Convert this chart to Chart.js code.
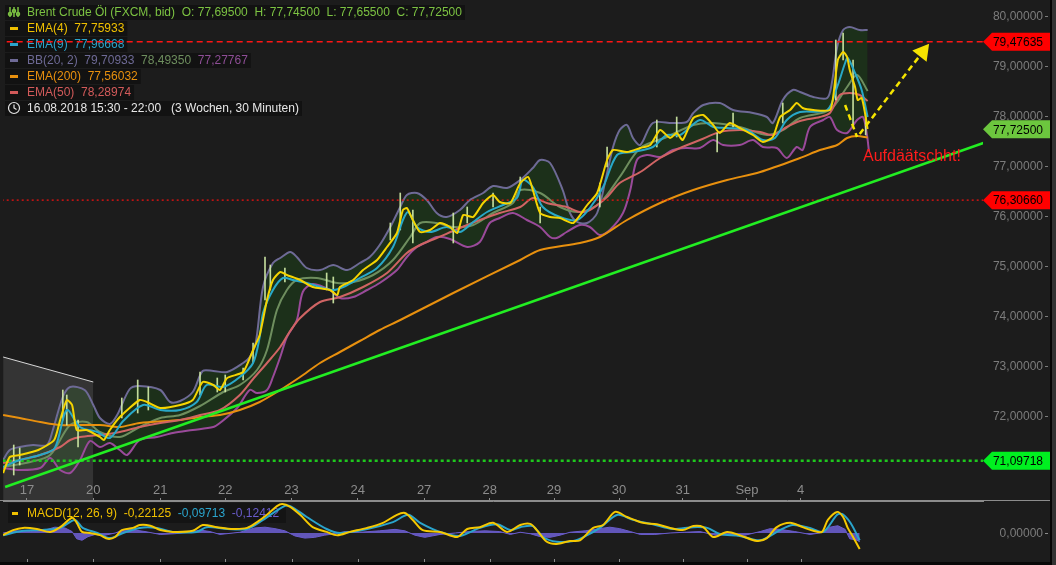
<!DOCTYPE html>
<html>
<head>
<meta charset="utf-8">
<script src="https://cdn.jsdelivr.net/npm/chart.js@4.4.0/dist/chart.umd.min.js"></script>
<style>
html, body { margin: 0; padding: 0; background: #1c1c1c; overflow: hidden; }
#wrap { position: relative; width: 1056px; height: 565px; }
#main { position: absolute; left: 0; top: 0; }
#macd { position: absolute; left: 0; top: 482px; }
.edgeB { position: absolute; left: 0; top: 562px; width: 1056px; height: 3px; background: #080808; }
.edgeR { position: absolute; left: 1050px; top: 0; width: 2px; height: 565px; background: #050505; }
.edgeR2 { position: absolute; left: 1052px; top: 0; width: 4px; height: 565px; background: #333; }
</style>
</head>
<body>
<div id="wrap">
  <canvas id="main" width="1056" height="501"></canvas>
  <canvas id="macd" width="1056" height="83"></canvas>
  <div class="edgeB"></div><div class="edgeR"></div><div class="edgeR2"></div>
</div>
<script>
// x unit = trading day, 17 Aug = 0
const dayTicks = [0, 1, 2.01, 2.99, 3.99, 4.99, 5.99, 6.98, 7.95, 8.93, 9.89, 10.86, 11.67];
const dayLabels = ['17', '20', '21', '22', '23', '24', '27', '28', '29', '30', '31', 'Sep', '4'];
const priceTicks = [72, 73, 74, 75, 76, 77, 78, 79, 80];

// [day, price]
const ema4 = [[-0.36,70.85],[-0.26,71.17],[-0.11,71.21],[0.17,71.31],[0.41,71.51],[0.50,71.91],[0.60,72.31],[0.68,72.21],[0.75,71.71],[0.90,71.71],[1.10,71.57],[1.16,71.51],[1.25,71.71],[1.40,71.97],[1.70,72.31],[1.81,72.27],[2.01,72.15],[2.31,72.21],[2.50,72.31],[2.65,72.67],[2.81,72.61],[2.91,72.51],[3.02,72.75],[3.26,72.87],[3.41,73.31],[3.51,73.61],[3.62,74.31],[3.71,74.71],[3.82,74.87],[3.92,74.81],[4.12,74.71],[4.31,74.57],[4.57,74.51],[4.68,74.41],[4.72,74.57],[4.92,74.71],[5.07,74.91],[5.28,75.11],[5.43,75.37],[5.58,75.65],[5.67,76.11],[5.73,76.15],[5.82,75.91],[5.93,75.67],[6.08,75.71],[6.23,75.85],[6.38,75.77],[6.49,75.65],[6.58,76.01],[6.73,75.97],[6.88,76.25],[7.03,76.41],[7.13,76.27],[7.29,76.25],[7.44,76.65],[7.56,76.77],[7.63,76.51],[7.74,76.05],[7.89,75.97],[8.04,75.95],[8.24,75.85],[8.45,76.21],[8.60,76.45],[8.75,77.11],[8.84,77.31],[9.05,77.27],[9.25,77.35],[9.40,77.41],[9.55,77.71],[9.70,77.55],[9.80,77.65],[9.89,77.51],[10.05,77.95],[10.20,78.01],[10.35,77.81],[10.45,77.65],[10.60,77.85],[10.75,77.75],[10.95,77.61],[11.10,77.47],[11.25,77.57],[11.36,77.97],[11.51,78.11],[11.61,78.25],[11.70,78.15],[11.86,78.11],[12.11,78.11],[12.16,78.37],[12.23,79.11],[12.31,79.27],[12.37,79.17],[12.41,78.91],[12.49,78.57],[12.53,78.31],[12.59,78.35],[12.64,78.05],[12.68,77.73]];
const ema9 = [[-0.36,70.97],[-0.11,71.11],[0.20,71.21],[0.42,71.35],[0.60,72.11],[0.80,71.77],[1.06,71.67],[1.25,71.55],[1.45,71.89],[1.75,72.21],[2.01,72.11],[2.31,72.11],[2.56,72.27],[2.71,72.61],[2.96,72.57],[3.21,72.77],[3.41,73.05],[3.51,73.57],[3.56,74.05],[3.71,74.51],[3.86,74.75],[4.01,74.71],[4.22,74.65],[4.42,74.57],[4.62,74.51],[4.77,74.57],[5.02,74.75],[5.28,74.95],[5.52,75.37],[5.67,75.91],[5.75,76.07],[5.88,75.77],[6.08,75.67],[6.33,75.77],[6.53,75.67],[6.73,75.87],[6.94,76.07],[7.18,76.21],[7.39,76.35],[7.48,76.71],[7.63,76.57],[7.78,76.17],[8.04,75.97],[8.30,75.91],[8.49,76.15],[8.69,76.57],[8.90,77.21],[9.14,77.27],[9.44,77.37],[9.65,77.61],[9.85,77.61],[10.15,77.91],[10.35,77.77],[10.56,77.75],[10.86,77.71],[11.10,77.51],[11.28,77.55],[11.46,77.91],[11.66,78.07],[12.07,78.11],[12.22,78.57],[12.34,79.05],[12.38,79.15],[12.49,78.85],[12.59,78.51],[12.68,77.97]];
const bbUpper = [[-0.36,71.11],[-0.26,71.31],[-0.11,71.37],[0.09,71.41],[0.30,71.41],[0.39,71.71],[0.54,72.37],[0.65,72.57],[0.87,72.51],[1.00,72.21],[1.10,71.95],[1.25,71.83],[1.36,72.01],[1.55,72.53],[1.70,72.59],[2.01,72.51],[2.16,72.27],[2.31,72.29],[2.50,72.47],[2.65,72.89],[2.81,72.89],[3.02,72.87],[3.26,73.05],[3.36,73.17],[3.45,73.45],[3.56,74.57],[3.71,75.05],[3.82,75.15],[3.97,75.27],[4.07,75.17],[4.22,74.95],[4.42,74.91],[4.62,75.01],[4.83,74.91],[5.02,75.05],[5.17,75.17],[5.32,75.41],[5.48,75.77],[5.63,76.17],[5.73,76.41],[5.88,76.45],[6.03,76.31],[6.18,76.05],[6.33,75.97],[6.53,76.11],[6.68,76.31],[6.88,76.45],[7.03,76.59],[7.24,76.55],[7.44,76.71],[7.63,76.95],[7.74,77.11],[7.89,77.05],[8.08,76.51],[8.19,76.05],[8.30,75.87],[8.45,75.85],[8.60,76.05],[8.75,76.85],[8.84,77.37],[8.94,77.71],[9.05,77.81],[9.14,77.55],[9.25,77.41],[9.44,77.85],[9.74,77.85],[9.95,77.87],[10.05,78.05],[10.20,78.21],[10.45,78.25],[10.65,78.11],[10.95,78.05],[11.16,77.97],[11.25,77.85],[11.40,78.31],[11.55,78.51],[11.66,78.47],[11.86,78.37],[12.07,78.35],[12.14,78.65],[12.22,79.37],[12.31,79.71],[12.41,79.77],[12.56,79.71],[12.68,79.71]];
const bbMiddle = [[-0.36,70.97],[0.05,71.07],[0.35,71.21],[0.65,71.81],[0.90,71.87],[1.10,71.67],[1.40,71.57],[1.70,71.77],[2.01,71.95],[2.31,72.01],[2.61,72.19],[2.96,72.47],[3.21,72.61],[3.47,72.91],[3.62,73.31],[3.77,74.11],[3.92,74.51],[4.07,74.71],[4.37,74.75],[4.68,74.65],[4.92,74.67],[5.22,74.81],[5.52,75.11],[5.78,75.57],[5.93,75.85],[6.18,75.85],[6.43,75.77],[6.73,75.81],[7.03,76.05],[7.33,76.25],[7.44,76.51],[7.74,76.45],[8.04,76.17],[8.34,76.07],[8.64,76.25],[8.94,76.77],[9.25,77.35],[9.65,77.57],[10.05,77.81],[10.35,77.85],[10.75,77.77],[11.16,77.61],[11.40,77.71],[11.66,77.95],[12.11,78.11],[12.37,78.57],[12.52,78.81],[12.68,78.49]];
const bbLower = [[-0.36,70.95],[-0.11,70.91],[0.20,70.95],[0.35,71.15],[0.50,70.91],[0.65,70.85],[0.80,71.11],[0.95,71.49],[1.10,71.37],[1.25,71.45],[1.40,71.31],[1.51,71.21],[1.70,71.51],[1.96,71.57],[2.20,71.65],[2.50,71.71],[2.81,71.77],[2.91,71.85],[3.17,72.15],[3.36,72.51],[3.47,72.45],[3.62,72.51],[3.71,72.77],[3.82,73.17],[3.92,73.57],[4.07,73.91],[4.16,74.47],[4.31,74.63],[4.57,74.51],[4.72,74.35],[4.92,74.37],[5.13,74.51],[5.32,74.65],[5.58,74.91],[5.73,75.17],[5.88,75.37],[6.03,75.47],[6.18,75.57],[6.38,75.53],[6.64,75.37],[6.83,75.47],[6.98,75.85],[7.13,75.95],[7.33,76.05],[7.54,75.91],[7.74,75.77],[7.89,75.57],[7.99,75.55],[8.14,75.67],[8.34,75.81],[8.49,75.77],[8.64,75.61],[8.79,75.71],[8.99,76.05],[9.10,76.51],[9.20,77.11],[9.35,77.21],[9.55,77.17],[9.74,77.31],[9.95,77.35],[10.15,77.35],[10.35,77.51],[10.50,77.41],[10.75,77.41],[10.95,77.51],[11.10,77.37],[11.31,77.35],[11.46,77.15],[11.61,77.37],[11.70,77.31],[11.81,77.77],[12.01,77.91],[12.11,77.97],[12.22,77.71],[12.37,77.65],[12.52,77.91],[12.61,77.97],[12.67,77.61],[12.70,77.28]];
const ema50 = [[-0.36,71.05],[-0.11,71.11],[0.20,71.21],[0.50,71.37],[0.65,71.51],[0.80,71.57],[1.10,71.61],[1.40,71.67],[1.70,71.77],[2.01,71.85],[2.31,71.91],[2.61,72.01],[2.91,72.11],[3.21,72.41],[3.41,72.73],[3.62,73.05],[3.82,73.37],[3.97,73.69],[4.12,73.95],[4.42,74.27],[4.72,74.37],[5.07,74.57],[5.43,74.85],[5.73,75.25],[5.93,75.41],[6.18,75.55],[6.53,75.75],[6.83,75.91],[7.13,76.05],[7.44,76.17],[7.63,76.35],[7.84,76.25],[8.14,76.17],[8.34,76.07],[8.49,76.11],[8.75,76.37],[8.94,76.65],[9.25,76.87],[9.55,77.15],[9.85,77.35],[10.15,77.51],[10.45,77.67],[10.75,77.71],[11.06,77.67],[11.25,77.61],[11.46,77.77],[11.66,77.89],[11.96,77.97],[12.11,78.05],[12.26,78.41],[12.41,78.45],[12.56,78.41],[12.68,78.29]];
const ema200 = [[-0.36,72.01],[-0.11,71.95],[0.20,71.87],[0.50,71.81],[1.10,71.81],[1.40,71.77],[1.70,71.85],[2.31,71.91],[2.61,71.97],[2.91,72.01],[3.21,72.11],[3.51,72.27],[3.82,72.51],[4.12,72.77],[4.42,73.05],[4.72,73.27],[5.02,73.49],[5.32,73.71],[5.63,73.91],[6.43,74.45],[7.44,75.11],[7.74,75.31],[8.34,75.45],[8.64,75.57],[9.05,75.91],[9.55,76.25],[10.05,76.51],[10.56,76.71],[11.06,76.87],[11.66,77.15],[11.96,77.31],[12.22,77.41],[12.37,77.55],[12.52,77.59],[12.68,77.56]];
// bar wicks: [day, low, high]
const wicks = [[-0.20,70.81,71.41],[-0.11,71.01,71.35],[0.54,71.91,72.51],[0.60,71.81,72.41],[0.77,71.37,71.91],[1.43,71.95,72.35],[1.67,72.05,72.71],[1.83,72.11,72.57],[2.61,72.41,72.87],[2.87,72.47,72.75],[2.99,72.47,72.81],[3.26,72.71,72.95],[3.41,73.05,73.45],[3.59,74.31,75.17],[3.67,74.51,75.01],[3.89,74.67,74.95],[4.52,74.51,74.85],[4.62,74.25,74.77],[5.48,75.51,75.85],[5.63,75.71,76.45],[5.82,75.45,76.11],[6.43,75.45,76.05],[6.64,75.85,76.17],[7.03,76.17,76.45],[7.44,76.51,76.77],[7.74,75.85,76.17],[8.64,76.17,76.65],[8.75,76.97,77.37],[9.50,77.37,77.91],[9.80,77.57,77.97],[10.41,77.27,77.65],[10.65,77.77,78.05],[11.40,77.85,78.25],[12.20,78.31,79.51],[12.31,79.11,79.65],[12.46,77.77,79.11],[12.65,77.61,78.01]];

const trendLine = [[-0.33, 70.57], [14.68, 77.57]];
const zoneTop = [[-0.36, 73.17], [1.00, 72.67]];
const arrowDown = [[12.34, 78.21], [12.52, 77.57]];
const arrowUp = [[12.56, 77.63], [13.51, 79.27]];
const notePos = [12.61, 77.17];
const noteText = 'Aufdäätschht!';

const levelHigh = 79.47635;
const levelMid = 76.30660;
const levelLow = 71.09718;
const lastClose = 77.72500;

const ohlc = [77.695, 77.745, 77.655, 77.725];
const ema4Last = 77.75933, ema9Last = 77.96668, ema200Last = 77.56032, ema50Last = 78.28974;
const bbLast = [79.70933, 78.49350, 77.27767];
const macdLast = [-0.22125, -0.09713, -0.12412];

// MACD panel [day, value]
const macdLine = [[-0.36,-0.03],[-0.21,0.04],[-0.06,0.07],[0.15,0.055],[0.35,0.015],[0.50,0.08],[0.68,0.21],[0.75,0.14],[0.83,0.015],[0.95,0],[1.10,-0.03],[1.22,-0.08],[1.33,-0.055],[1.43,0.04],[1.60,0.07],[1.70,0.11],[1.86,0.10],[2.01,0.04],[2.20,0.015],[2.50,0.03],[2.65,0.11],[2.87,0.08],[3.11,0.055],[3.32,0.07],[3.47,0.15],[3.62,0.25],[3.77,0.37],[3.85,0.40],[3.97,0.36],[4.12,0.25],[4.31,0.08],[4.52,0.015],[4.68,-0.03],[4.87,0.015],[5.13,0.07],[5.37,0.14],[5.58,0.25],[5.70,0.275],[5.82,0.18],[5.97,0.04],[6.23,0.015],[6.49,-0.055],[6.64,0.055],[6.83,0.08],[7.03,0.14],[7.24,0.015],[7.44,0.11],[7.59,0.125],[7.69,0.04],[7.84,-0.12],[7.99,-0.15],[8.19,-0.11],[8.34,-0.10],[8.54,0.07],[8.69,0.11],[8.87,0.29],[9.05,0.22],[9.29,0.14],[9.50,0.12],[9.70,0.07],[9.89,0.04],[10.05,0.095],[10.20,0.08],[10.35,-0.055],[10.56,0.015],[10.75,-0.03],[11.01,-0.11],[11.16,-0.07],[11.31,0.08],[11.51,0.14],[11.70,0.08],[11.86,0.03],[11.99,0.015],[12.08,0.18],[12.22,0.29],[12.31,0.22],[12.38,0.07],[12.46,-0.055],[12.56,-0.22]];
const signalLine = [[-0.36,-0.03],[-0.06,0.03],[0.20,0.04],[0.50,0.07],[0.72,0.18],[0.84,0.07],[1.06,0],[1.25,-0.07],[1.45,0],[1.70,0.07],[1.96,0.07],[2.20,0.015],[2.56,0.015],[2.71,0.08],[3.02,0.055],[3.32,0.055],[3.56,0.18],[3.86,0.36],[3.97,0.37],[4.22,0.22],[4.52,0.055],[4.72,0],[5.13,0.055],[5.52,0.15],[5.75,0.25],[5.93,0.14],[6.23,0.015],[6.53,-0.04],[6.83,0.07],[7.09,0.12],[7.29,0.04],[7.44,0.08],[7.63,0.095],[7.78,-0.055],[7.99,-0.12],[8.24,-0.11],[8.45,-0.03],[8.64,0.07],[8.91,0.25],[9.14,0.18],[9.44,0.12],[9.74,0.055],[10.05,0.08],[10.26,0.07],[10.45,-0.014],[10.75,-0.04],[11.06,-0.10],[11.36,0.04],[11.55,0.11],[11.81,0.07],[12.01,0.015],[12.22,0.25],[12.30,0.26],[12.42,0.14],[12.56,-0.10]];
const histogram = [[-0.36,0],[-0.18,0.03],[0.05,0.02],[0.27,0.04],[0.42,0.08],[0.57,0.07],[0.68,0.02],[0.75,-0.08],[0.83,-0.10],[0.92,-0.05],[1.03,-0.02],[1.18,-0.03],[1.33,0],[1.48,0.05],[1.63,0.04],[1.78,0.02],[2.01,-0.02],[2.23,-0.01],[2.46,0.01],[2.61,0.04],[2.76,0.02],[2.91,-0.02],[3.21,0.01],[3.44,0.07],[3.59,0.08],[3.74,0.06],[3.89,0.03],[4.04,-0.04],[4.19,-0.07],[4.34,-0.06],[4.49,-0.03],[4.65,-0.01],[4.80,0.02],[5.02,0.01],[5.32,0.03],[5.55,0.05],[5.70,0.03],[5.85,-0.03],[6.00,-0.06],[6.23,-0.02],[6.46,0],[6.68,0.02],[6.91,0.03],[7.13,0.02],[7.29,-0.02],[7.44,0.01],[7.59,-0.01],[7.74,-0.05],[7.89,-0.06],[8.04,-0.03],[8.19,0.01],[8.42,0.03],[8.64,0.06],[8.79,0.08],[8.94,0.06],[9.10,0.02],[9.25,-0.02],[9.47,-0.02],[9.70,0],[9.92,0.01],[10.15,0.02],[10.38,-0.03],[10.60,-0.02],[10.83,-0.03],[11.06,0.02],[11.21,0.06],[11.36,0.05],[11.58,0.02],[11.81,-0.02],[11.96,0],[12.11,0.08],[12.23,0.10],[12.34,0.05],[12.41,-0.08],[12.52,-0.10],[12.56,-0.12]];

const X_MIN = -0.362, X_MAX = 14.42;
const FONT = '"Liberation Sans", Arial, sans-serif';
const toXY = pts => pts.map(p => ({x: p[0], y: p[1]}));
const fmt = v => v.toFixed(5).replace('.', ',');

function lineDs(label, pts, color, order, extra) {
  return Object.assign({
    label: label, data: toXY(pts), borderColor: color, borderWidth: 2,
    pointRadius: 0, tension: 0.3, fill: false, order: order
  }, extra || {});
}
function levelDs(label, v, color, dash, width) {
  return {
    label: label, data: [{x: X_MIN - 1, y: v}, {x: X_MAX + 1, y: v}],
    borderColor: color, borderWidth: width, borderDash: dash, pointRadius: 0, fill: false, order: 7
  };
}

function priceTag(ctx, y, text, bg) {
  const h = 18;
  ctx.fillStyle = bg;
  ctx.beginPath();
  ctx.moveTo(983, y);
  ctx.lineTo(992, y - h / 2);
  ctx.lineTo(1050, y - h / 2);
  ctx.lineTo(1050, y + h / 2);
  ctx.lineTo(992, y + h / 2);
  ctx.closePath();
  ctx.fill();
  ctx.fillStyle = '#000';
  ctx.font = '12px ' + FONT;
  ctx.textAlign = 'right';
  ctx.textBaseline = 'middle';
  ctx.fillText(text, 1043, y + 1);
}

function legendRow(ctx, y, mark, parts) {
  ctx.font = '12px ' + FONT;
  let w = 0;
  parts.forEach(p => { w += ctx.measureText(p[0]).width; });
  ctx.fillStyle = '#121212';
  ctx.fillRect(5, y - 7, 27 + w + 3 - 5, 15);
  if (mark === 'icon') {
    ctx.strokeStyle = '#7cc242'; ctx.lineWidth = 1.5;
    [10, 14, 18].forEach((x, i) => {
      ctx.beginPath(); ctx.moveTo(x, y - 5); ctx.lineTo(x, y + 5); ctx.stroke();
      ctx.beginPath(); ctx.arc(x, y + (i % 2 ? -1 : 2), 1.5, 0, Math.PI * 2); ctx.stroke();
    });
  } else if (mark === 'clock') {
    ctx.strokeStyle = '#e6e6e6'; ctx.lineWidth = 1.2;
    ctx.beginPath(); ctx.arc(14, y, 5.5, 0, Math.PI * 2); ctx.stroke();
    ctx.beginPath(); ctx.moveTo(14, y - 3.5); ctx.lineTo(14, y); ctx.lineTo(16.5, y + 1.5); ctx.stroke();
  } else {
    ctx.fillStyle = mark;
    ctx.fillRect(10, y - 1, 8, 3);
  }
  let x = 27;
  ctx.textAlign = 'left';
  ctx.textBaseline = 'middle';
  parts.forEach(p => {
    ctx.fillStyle = p[1];
    ctx.fillText(p[0], x, y + 1);
    x += ctx.measureText(p[0]).width;
  });
}

const mainDecor = {
  id: 'mainDecor',
  beforeDatasetsDraw(chart) {
    const ctx = chart.ctx;
    ctx.save();
    legendRow(ctx, 12, 'icon', [['Brent Crude Öl (FXCM, bid)  O: ' + fmt(ohlc[0]) + '  H: ' + fmt(ohlc[1]) + '  L: ' + fmt(ohlc[2]) + '  C: ' + fmt(ohlc[3]), '#7cc242']]);
    legendRow(ctx, 28, '#f0c000', [['EMA(4)  ' + fmt(ema4Last), '#f0c000']]);
    legendRow(ctx, 44, '#2aa4cc', [['EMA(9)  ' + fmt(ema9Last), '#2aa4cc']]);
    legendRow(ctx, 60, '#6e6a96', [['BB(20, 2)  ' + fmt(bbLast[0]), '#6e6a96'], ['  ' + fmt(bbLast[1]), '#6e8e5e'], ['  ' + fmt(bbLast[2]), '#8e4e96']]);
    legendRow(ctx, 76, '#e8900e', [['EMA(200)  ' + fmt(ema200Last), '#e8900e']]);
    legendRow(ctx, 92, '#d25a5a', [['EMA(50)  ' + fmt(ema50Last), '#d25a5a']]);
    legendRow(ctx, 108, 'clock', [['16.08.2018 15:30 - 22:00   (3 Wochen, 30 Minuten)', '#e6e6e6']]);
    ctx.restore();
  },
  afterDraw(chart) {
    const ctx = chart.ctx, xs = chart.scales.x, ys = chart.scales.y;
    ctx.save();
    ctx.font = '12px ' + FONT;
    ctx.textAlign = 'right';
    ctx.textBaseline = 'middle';
    ctx.strokeStyle = '#7c7c7c';
    ctx.lineWidth = 1;
    priceTicks.forEach(v => {
      const y = ys.getPixelForValue(v);
      ctx.fillStyle = '#7c7c7c';
      ctx.fillText(fmt(v), 1043, y + 1);
      ctx.beginPath(); ctx.moveTo(1045, Math.round(y) + 0.5); ctx.lineTo(1048, Math.round(y) + 0.5); ctx.stroke();
    });
    priceTag(ctx, ys.getPixelForValue(levelHigh), fmt(levelHigh), '#ff0000');
    priceTag(ctx, ys.getPixelForValue(levelMid), fmt(levelMid), '#ff0000');
    priceTag(ctx, ys.getPixelForValue(lastClose), fmt(lastClose), '#6cc63e');
    priceTag(ctx, ys.getPixelForValue(levelLow), fmt(levelLow), '#00f020');
    ctx.fillStyle = '#ff1c1c';
    ctx.font = '16px ' + FONT;
    ctx.textAlign = 'left';
    ctx.fillText(noteText, xs.getPixelForValue(notePos[0]), ys.getPixelForValue(notePos[1]));
    ctx.restore();
  }
};

const mainSets = [
  lineDs('zone', zoneTop, '#d8d8d8', 0, {borderWidth: 1, tension: 0, fill: 'start', backgroundColor: 'rgba(150,150,150,0.2)'}),
  lineDs('BB lower', bbLower, '#9a4a9a', 12),
  lineDs('BB upper', bbUpper, '#6e6a96', 11, {fill: {target: 1}, backgroundColor: '#1c301a'}),
  lineDs('BB middle', bbMiddle, '#6e8e5e', 10),
  lineDs('EMA(200)', ema200, '#e8900e', 9),
  lineDs('EMA(50)', ema50, '#d06464', 8),
  levelDs('high', levelHigh, '#ff1414', [6, 4], 1.5),
  levelDs('mid', levelMid, '#ee1010', [2, 3], 1.4),
  levelDs('low', levelLow, '#1ec81e', [3, 3], 2.5),
  lineDs('trend', trendLine, '#22ee22', 6, {borderWidth: 2.5, tension: 0}),
  {
    type: 'bar', label: 'wicks', order: 4,
    data: wicks.map(w => ({x: w[0], y: [w[1], w[2]]})),
    backgroundColor: 'rgba(212,238,168,0.9)', barThickness: 1, borderWidth: 0
  },
  lineDs('EMA(9)', ema9, '#28a8c8', 3),
  lineDs('EMA(4)', ema4, '#f5d400', 2, {tension: 0.2}),
  lineDs('down', arrowDown, '#f5e400', 1, {borderWidth: 2.5, borderDash: [6, 4], tension: 0}),
  lineDs('up', arrowUp, '#f5e400', 1, {
    borderWidth: 2.5, borderDash: [6, 4], tension: 0,
    pointRadius: c => c.dataIndex === 1 ? 8 : 0,
    pointStyle: 'triangle', pointRotation: 38,
    pointBackgroundColor: '#f5e400', pointBorderColor: '#f5e400'
  })
];

new Chart(document.getElementById('main'), {
  type: 'line',
  data: {datasets: mainSets},
  options: {
    responsive: false,
    animation: false,
    events: [],
    layout: {autoPadding: false, padding: {left: 3, right: 13, top: 0, bottom: 0}},
    plugins: {legend: {display: false}, tooltip: {enabled: false}, filler: {drawTime: 'beforeDatasetsDraw'}},
    scales: {
      x: {type: 'linear', min: X_MIN, max: X_MAX, display: false, offset: false},
      y: {
        position: 'right', min: 70.29, max: 80.31,
        afterBuildTicks: s => { s.ticks = priceTicks.map(v => ({value: v})); },
        afterFit: s => { s.width = 60; },
        grid: {display: false}, border: {display: false},
        ticks: {display: false}
      }
    }
  },
  plugins: [mainDecor]
});

const macdDecor = {
  id: 'macdDecor',
  beforeDatasetsDraw(chart) {
    const ctx = chart.ctx, a = chart.chartArea;
    ctx.save();
    ctx.fillStyle = '#141414';
    ctx.fillRect(8, a.top + 2, 278, 20);
    const y = a.top + 12;
    ctx.fillStyle = '#f0c000';
    ctx.fillRect(12, y - 1, 6, 3);
    ctx.font = '12px ' + FONT;
    ctx.textAlign = 'left';
    ctx.textBaseline = 'middle';
    let x = 27;
    [['MACD(12, 26, 9)  ' + fmt(macdLast[0]), '#f0c000'], ['  ' + fmt(macdLast[1]), '#2aa4cc'], ['  ' + fmt(macdLast[2]), '#6a5ccc']].forEach(p => {
      ctx.fillStyle = p[1];
      ctx.fillText(p[0], x, y + 1);
      x += ctx.measureText(p[0]).width;
    });
    ctx.restore();
  },
  afterDraw(chart) {
    const ctx = chart.ctx, a = chart.chartArea, xs = chart.scales.x, ys = chart.scales.y;
    ctx.save();
    ctx.strokeStyle = '#8c8c8c';
    ctx.lineWidth = 1;
    ctx.beginPath(); ctx.moveTo(0, a.top - 0.5); ctx.lineTo(1050, a.top - 0.5); ctx.stroke();
    dayTicks.forEach(t => {
      const x = Math.round(xs.getPixelForValue(t)) + 0.5;
      ctx.beginPath(); ctx.moveTo(x, a.bottom - 3); ctx.lineTo(x, a.bottom); ctx.stroke();
    });
    const y0 = ys.getPixelForValue(0);
    ctx.fillStyle = '#7c7c7c';
    ctx.font = '12px ' + FONT;
    ctx.textAlign = 'right';
    ctx.textBaseline = 'middle';
    ctx.fillText(fmt(0), 1043, y0 + 1);
    ctx.beginPath(); ctx.moveTo(1045, Math.round(y0) + 0.5); ctx.lineTo(1048, Math.round(y0) + 0.5); ctx.stroke();
    ctx.restore();
  }
};

new Chart(document.getElementById('macd'), {
  type: 'line',
  data: {
    datasets: [
      lineDs('Histogram', histogram, '#6a5ccc', 5, {borderWidth: 1, tension: 0, fill: 'origin', backgroundColor: 'rgba(110,96,214,0.85)'}),
      lineDs('Signal', signalLine, '#2aa4cc', 2, {borderWidth: 2}),
      lineDs('MACD', macdLine, '#f5c800', 1, {borderWidth: 2})
    ]
  },
  options: {
    responsive: false,
    animation: false,
    events: [],
    layout: {autoPadding: false, padding: {left: 3, right: 13, top: 0, bottom: 3}},
    plugins: {legend: {display: false}, tooltip: {enabled: false}},
    scales: {
      x: {
        type: 'linear', position: 'top', min: X_MIN, max: X_MAX,
        afterBuildTicks: s => { s.ticks = dayTicks.map(v => ({value: v})); },
        afterFit: s => { s.height = 19; },
        grid: {drawOnChartArea: false, drawTicks: true, tickLength: 3, color: '#8c8c8c'},
        border: {display: true, color: '#8c8c8c'},
        ticks: {
          color: '#8c8c8c', font: {size: 13, family: FONT}, padding: 0,
          autoSkip: false, maxRotation: 0,
          callback: (v, i) => dayLabels[i]
        }
      },
      y: {
        position: 'right', min: -0.399, max: 0.44,
        afterBuildTicks: s => { s.ticks = [{value: 0}]; },
        afterFit: s => { s.width = 60; },
        grid: {display: false}, border: {display: false},
        ticks: {display: false}
      }
    }
  },
  plugins: [macdDecor]
});
</script>
</body>
</html>
